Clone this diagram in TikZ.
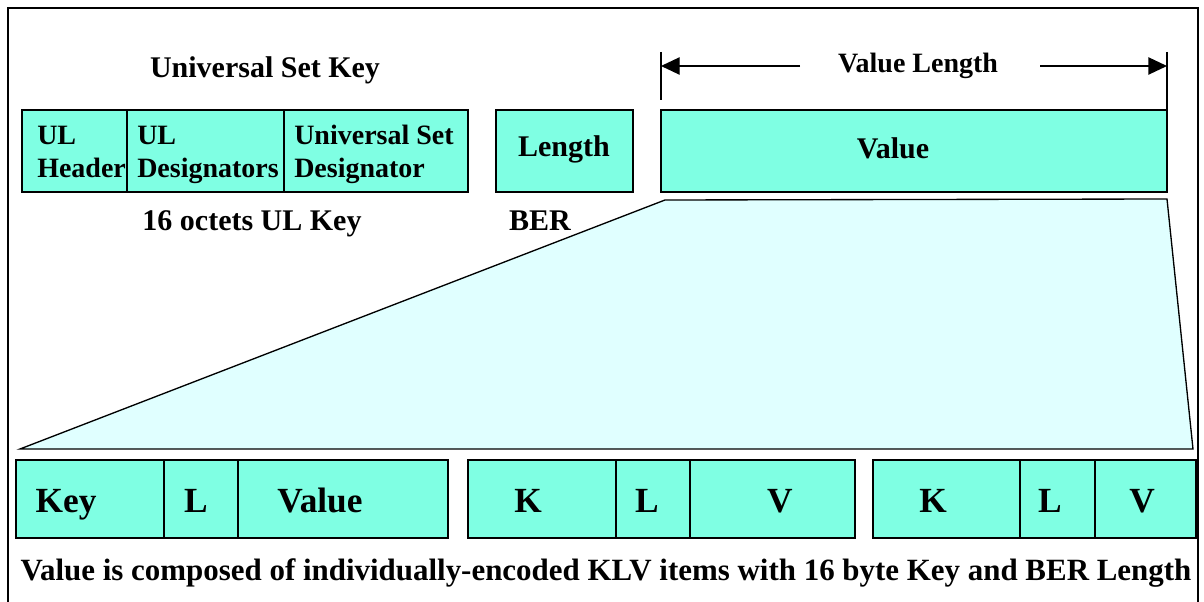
\documentclass[tikz,border=0pt]{standalone}
\usepackage{fontspec}
\setmainfont{Liberation Serif}
\usetikzlibrary{arrows.meta}
\definecolor{boxfill}{RGB}{127,255,227}
\definecolor{trapfill}{RGB}{224,255,255}
\begin{document}
\begin{tikzpicture}[x=0.75pt,y=-0.75pt,
  cell/.style={draw=black,line width=1.1pt,fill=boxfill,inner sep=0pt},
  lbl/.style={font=\bfseries\fontsize{22.5}{26}\selectfont,inner sep=0pt,anchor=base},
  big/.style={font=\bfseries\fontsize{26.5}{30}\selectfont,inner sep=0pt,anchor=base},
  lft/.style={font=\bfseries\fontsize{21}{25}\selectfont,inner sep=0pt,anchor=base west,align=left}]
\useasboundingbox (0,0) rectangle (1204,602);
% frame (bottom edge lies outside the picture)
\draw[line width=1pt] (8,640) -- (8,8) -- (1198,8) -- (1198,640);
% title
\node[lbl] (tusk) at (265,78) {Universal Set Key};
% top boxes
\path[cell] (22,110) rectangle (127,192);
\path[cell] (127,110) rectangle (284,192);
\path[cell] (284,110) rectangle (468,192);
\path[cell] (496,110) rectangle (633,192);
\path[cell] (661,110) rectangle (1167,192);
\node[lft] (t1a) at (37,145) {UL};
\node[lft] (t1b) at (37,178) {Header};
\node[lft] (t2a) at (137,145) {UL};
\node[lft] (t2b) at (137,178) {Designators};
\node[lft] (t3a) at (294,145) {Universal Set};
\node[lft] (t3b) at (294,178) {Designator};
\node[lbl] (tlen) at (564,157) {Length};
\node[lbl] (tval) at (893,159) {Value};
\node[lbl] (toct) at (252,231) {16 octets UL Key};
\node[lbl] (tber) at (540,231) {BER};
% value length dimension
\coordinate (va) at (661,52); \coordinate (vb) at (661,100);
\coordinate (wa) at (1167,52); \coordinate (wb) at (1167,109);
\draw[line width=1pt] (va) -- (vb);
\draw[line width=1pt] (wa) -- (wb);
\node[font=\bfseries\fontsize{21}{24}\selectfont,inner sep=0pt,anchor=base] (tvl) at (918,73) {Value Length};
\coordinate (al) at (661,66); \coordinate (ar) at (1167,66);
\coordinate (ml) at (800,66); \coordinate (mr) at (1040,66);
\draw[line width=1pt,-{Triangle[length=14pt,width=13pt]}] (ml) -- (al);
\draw[line width=1pt,-{Triangle[length=14pt,width=13pt]}] (mr) -- (ar);
% trapezoid
\draw[line width=1pt,fill=trapfill] (665,200) -- (1167,199) -- (1193,449) -- (20,449) -- cycle;
% bottom boxes
\foreach \a/\b in {16/164,164/238,238/448,468/616,616/690,690/855,873/1020,1020/1095,1095/1196}
  \path[cell] (\a,460) rectangle (\b,538);
\node[big] (k1) at (66,512) {Key};
\node[big] (l1) at (196,512) {L};
\node[big] (v1) at (320,512) {Value};
\node[big] (k2) at (528,512) {K};
\node[big] (l2) at (647,512) {L};
\node[big] (v2) at (780,512) {V};
\node[big] (k3) at (933,512) {K};
\node[big] (l3) at (1050,512) {L};
\node[big] (v3) at (1142,512) {V};
\node[font=\bfseries\fontsize{23.2}{26}\selectfont,inner sep=0pt,anchor=base] (foot) at (606,580) {Value is composed of individually-encoded KLV items with 16 byte Key and BER Length};
\end{tikzpicture}
\end{document}
